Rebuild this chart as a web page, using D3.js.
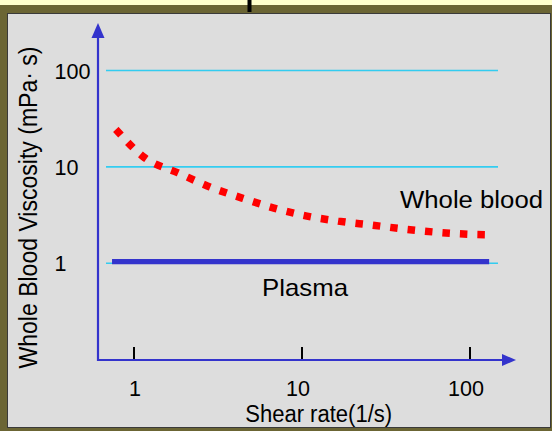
<!DOCTYPE html>
<html>
<head>
<meta charset="utf-8">
<script src="https://cdn.jsdelivr.net/npm/d3@7"></script>
<style>
  html, body { margin: 0; padding: 0; background: #FFFFCC; }
  svg { display: block; }
  text { font-family: "Liberation Sans", Arial, Helvetica, sans-serif; fill: #000; }
</style>
</head>
<body>
<svg id="chart" width="552" height="431"></svg>
<script>
// ---- data ----
const xTickValues = [1, 10, 100];
const xTickLabels = ["1", "10", "100"];
const yTickValues = [1, 10, 100];
const yTickLabels = ["1", "10", "100"];

const bloodShear = [0.78, 1.16, 1.83, 2.83, 4.40, 6.81, 10.7, 16.4, 26.1, 41.0, 63.6, 100, 126];
const bloodViscosity = [24.5, 12.4, 8.66, 6.19, 4.75, 3.74, 3.09, 2.74, 2.49, 2.26, 2.10, 2.00, 1.98];

const plasmaShear = [0.74, 130];
const plasmaViscosity = [1.04, 1.04];

const yAxisTitle = "Whole Blood Viscosity (mPa\u00B7 s)";
const xAxisTitle = "Shear rate(1/s)";
const bloodLabel = "Whole blood";
const plasmaLabel = "Plasma";

// ---- layout ----
const svg = d3.select("#chart");
const W = 552, H = 431;
const axisX0 = 98, axisY0 = 360;
const x = d3.scaleLog().domain([1, 100]).range([134, 470]);
const y = d3.scaleLog().domain([1, 100]).range([263.3, 70.5]);

// frame
svg.append("rect").attr("x", 0).attr("y", 0).attr("width", W).attr("height", H).attr("fill", "#FFFFCC");
svg.append("rect").attr("x", 0).attr("y", 5).attr("width", W).attr("height", H - 5).attr("fill", "#6B6534");
svg.append("rect").attr("x", 7.5).attr("y", 13.5).attr("width", 543).attr("height", 414)
  .attr("fill", "#DDDDDD").attr("stroke", "#3a3a3a").attr("stroke-width", 1);
svg.append("rect").attr("x", 247.5).attr("y", 0).attr("width", 4).attr("height", 12).attr("fill", "#000");

// gridlines
svg.append("g").selectAll("line").data(yTickValues).join("line")
  .attr("x1", 106).attr("x2", 498)
  .attr("y1", d => y(d)).attr("y2", d => y(d))
  .attr("stroke", "#33CCF0").attr("stroke-width", 1.6);

// y tick labels
svg.append("g").selectAll("text").data(yTickValues).join("text")
  .attr("x", 54.5).attr("y", d => y(d) + 8)
  .attr("font-size", 22).attr("text-anchor", "start")
  .attr("textLength", (d, i) => [12, 24, 36][yTickLabels[i].length - 1])
  .attr("lengthAdjust", "spacingAndGlyphs")
  .text((d, i) => yTickLabels[i]);

// x ticks
svg.append("g").selectAll("line").data(xTickValues).join("line")
  .attr("x1", d => x(d)).attr("x2", d => x(d))
  .attr("y1", axisY0 - 13).attr("y2", axisY0)
  .attr("stroke", "#000").attr("stroke-width", 2);
svg.append("g").selectAll("text").data(xTickValues).join("text")
  .attr("x", (d, i) => x(d) - (i === 0 ? -1 : 4)).attr("y", 396)
  .attr("font-size", 22).attr("text-anchor", "middle")
  .attr("textLength", (d, i) => [12, 24, 36][xTickLabels[i].length - 1])
  .attr("lengthAdjust", "spacingAndGlyphs")
  .text((d, i) => xTickLabels[i]);

// plasma line
const line = d3.line().x(d => x(d[0])).y(d => y(d[1]));
svg.append("path")
  .datum(plasmaShear.map((s, i) => [s, plasmaViscosity[i]]))
  .attr("d", line).attr("fill", "none")
  .attr("stroke", "#3333CC").attr("stroke-width", 5.2);

// whole blood dashed curve
const curveLine = d3.line().x(d => x(d[0])).y(d => y(d[1])).curve(d3.curveMonotoneX);
svg.append("path")
  .datum(bloodShear.map((s, i) => [s, bloodViscosity[i]]))
  .attr("d", curveLine).attr("fill", "none")
  .attr("stroke", "#FF0000").attr("stroke-width", 7.5)
  .attr("stroke-dasharray", "7.5 10");

// axes
const axisColor = "#3333CC";
svg.append("line").attr("x1", axisX0).attr("x2", axisX0).attr("y1", axisY0 + 1).attr("y2", 36)
  .attr("stroke", axisColor).attr("stroke-width", 2.2);
svg.append("path").attr("d", `M${axisX0},23 L${axisX0 - 6.5},38 L${axisX0 + 6.5},38 Z`).attr("fill", axisColor);
svg.append("line").attr("x1", axisX0 - 1).attr("x2", 504).attr("y1", axisY0).attr("y2", axisY0)
  .attr("stroke", axisColor).attr("stroke-width", 2.2);
svg.append("path").attr("d", `M516,${axisY0} L502,${axisY0 - 6} L502,${axisY0 + 6} Z`).attr("fill", axisColor);

// titles
svg.append("text")
  .attr("transform", "translate(36.5,207.5) rotate(-90)")
  .attr("text-anchor", "middle").attr("font-size", 25)
  .attr("textLength", 322).attr("lengthAdjust", "spacingAndGlyphs")
  .text(yAxisTitle);
svg.append("text")
  .attr("x", 318.7).attr("y", 422)
  .attr("text-anchor", "middle").attr("font-size", 23)
  .attr("textLength", 147).attr("lengthAdjust", "spacingAndGlyphs")
  .text(xAxisTitle);
svg.append("text")
  .attr("x", 471.5).attr("y", 208.3)
  .attr("text-anchor", "middle").attr("font-size", 23)
  .attr("textLength", 143).attr("lengthAdjust", "spacingAndGlyphs")
  .text(bloodLabel);
svg.append("text")
  .attr("x", 305).attr("y", 296)
  .attr("text-anchor", "middle").attr("font-size", 24)
  .attr("textLength", 86).attr("lengthAdjust", "spacingAndGlyphs")
  .text(plasmaLabel);
</script>
</body>
</html>
